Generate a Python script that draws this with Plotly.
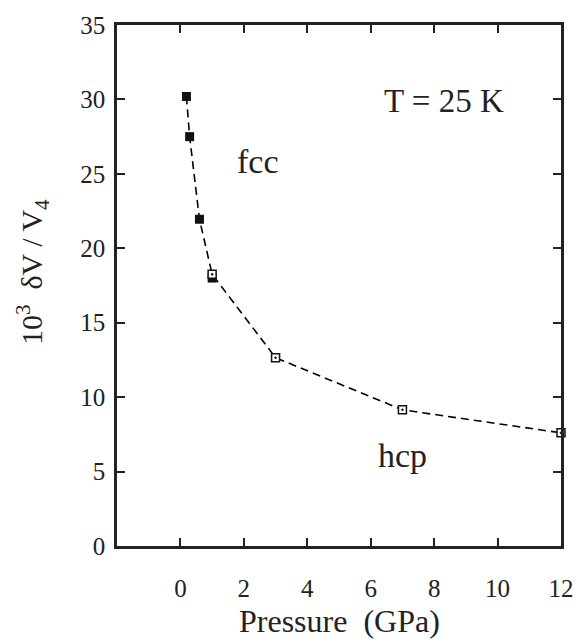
import plotly.graph_objects as go

# Data
fcc_pressure = [0.19, 0.29, 0.60, 1.00]
fcc_dv = [30.2, 27.5, 21.95, 18.0]
hcp_pressure = [1.00, 3.0, 7.0, 12.0]
hcp_dv = [18.25, 12.65, 9.15, 7.6]

x_ticks = [0, 2, 4, 6, 8, 10, 12]
y_ticks = [0, 5, 10, 15, 20, 25, 30, 35]

FONT = "Liberation Serif"
INK = "#222222"

fig = go.Figure()

# dashed connecting line through all points
fig.add_trace(go.Scatter(
    x=fcc_pressure + hcp_pressure[1:],
    y=fcc_dv[:-1] + [hcp_dv[0]] + hcp_dv[1:],
    mode="lines",
    line=dict(color="black", width=1.6, dash="8px,5px"),
    hoverinfo="skip", showlegend=False,
))
fig.add_trace(go.Scatter(
    x=fcc_pressure, y=fcc_dv, mode="markers",
    marker=dict(symbol="square", size=9, color="#111111", line=dict(width=0)),
    showlegend=False,
))
fig.add_trace(go.Scatter(
    x=hcp_pressure, y=hcp_dv, mode="markers",
    marker=dict(symbol="square-dot", size=8, color="white",
                line=dict(color="#111111", width=1.5)),
    showlegend=False, cliponaxis=False,
))

axis_common = dict(
    showgrid=False, zeroline=False, showline=True, linecolor=INK,
    linewidth=2.5, mirror="ticks", ticks="inside", ticklen=8, tickwidth=2,
    tickcolor=INK, tickfont=dict(family=FONT, size=25, color=INK),
)

plot_l, plot_r, plot_t, plot_b = 117, 15, 17, 96
plot_w = 586 - plot_l - plot_r
plot_h = 642 - plot_t - plot_b

fig.update_layout(
    width=586, height=642,
    margin=dict(l=plot_l, r=plot_r, t=plot_t, b=plot_b),
    paper_bgcolor="white", plot_bgcolor="white",
    font=dict(family=FONT, color=INK),
    xaxis=dict(range=[-2, 12], tickvals=x_ticks, ticklabelstandoff=18, **axis_common),
    yaxis=dict(range=[0, 35], tickvals=y_ticks, ticklabelstandoff=4, **axis_common),
    annotations=[
        dict(text="Pressure  (GPa)", x=(345 - plot_l) / plot_w,
             y=(642 - plot_b - 622) / plot_h, xref="paper", yref="paper",
             xanchor="center", yanchor="middle",
             showarrow=False, font=dict(size=32, family=FONT, color=INK)),
        dict(text="10<sup>3</sup>  δV / V<sub>4</sub>", textangle=-90,
             x=(30 - plot_l) / plot_w, y=(642 - plot_b - 268) / plot_h,
             xref="paper", yref="paper", xanchor="center", yanchor="middle",
             showarrow=False, font=dict(size=30, family=FONT, color=INK)),
        dict(text="T = 25 K", x=8.3, y=29.9, xref="x", yref="y", showarrow=False,
             font=dict(size=33, family=FONT, color=INK)),
        dict(text="fcc", x=2.45, y=25.8, xref="x", yref="y", showarrow=False,
             font=dict(size=34, family=FONT, color=INK)),
        dict(text="hcp", x=7.0, y=6.05, xref="x", yref="y", showarrow=False,
             font=dict(size=34, family=FONT, color=INK)),
    ],
)

fig.write_html("out.html")
